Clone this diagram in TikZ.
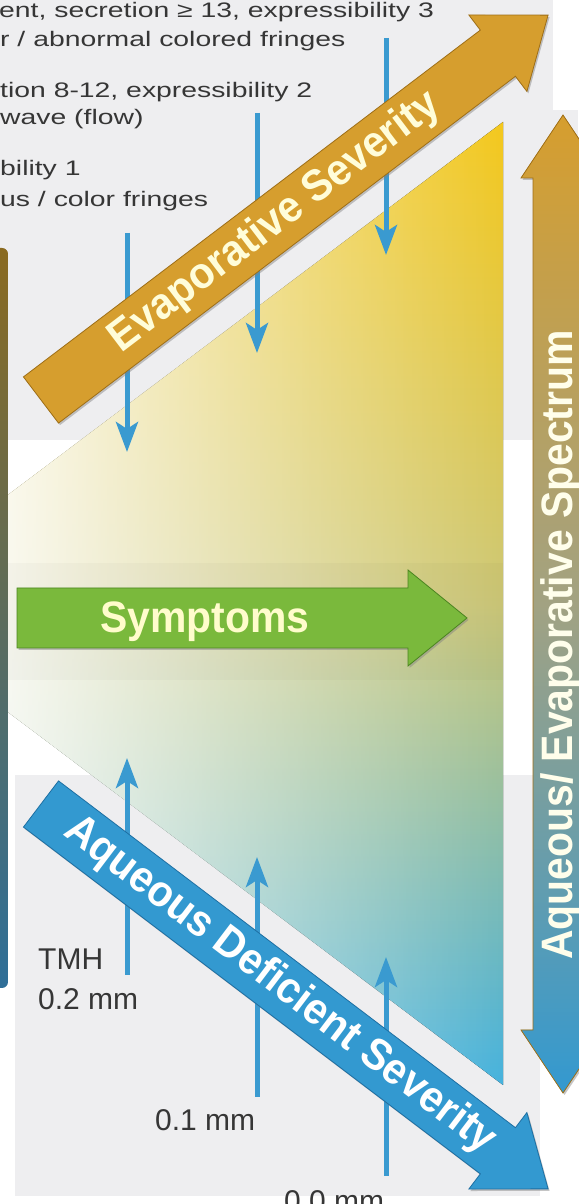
\documentclass[tikz,border=0pt]{standalone}
\usepackage{fontspec}
\setmainfont{Liberation Sans}
\newfontfamily\notefont[FakeStretch=1.35]{Liberation Sans}
\newfontfamily\barfont[FakeStretch=0.93]{Liberation Sans}
\usetikzlibrary{arrows.meta,shadows,fadings}

\definecolor{evap}{HTML}{D69E2E}
\definecolor{evapdark}{HTML}{9E6E16}
\definecolor{aqua}{HTML}{3399D0}
\definecolor{aquadark}{HTML}{1D6FA3}
\definecolor{symp}{HTML}{7AB93C}
\definecolor{sympdark}{HTML}{4B8420}
\definecolor{specmid}{HTML}{A2A282}
\definecolor{tickblue}{HTML}{3A9AD0}
\definecolor{panel}{HTML}{EEEEF0}
\definecolor{ink}{HTML}{363636}
\definecolor{fieldtop}{HTML}{F4C81C}
\definecolor{fieldmid}{HTML}{CDC877}
\definecolor{fieldbot}{HTML}{45B2DE}
\definecolor{edgetop}{HTML}{8A6A20}
\definecolor{edgebot}{HTML}{2E6E98}

\tikzset{
	bigarrow/.style={draw=#1dark, line width=0.8pt, fill=#1,
		drop shadow={shadow xshift=1.5pt, shadow yshift=-2pt, opacity=0.45}},
	bartext/.style={font=\barfont\bfseries\fontsize{44}{44}\selectfont, inner sep=0pt},
	notetext/.style={font=\notefont\fontsize{21}{25}\selectfont, text=ink, inner sep=0pt, anchor=base west},
	mmtext/.style={font=\fontsize{30}{34}\selectfont, text=ink, inner sep=0pt, anchor=base west},
	tickarrow/.style={draw=tickblue, line width=5pt, -{Stealth[length=30pt,width=22pt,inset=7pt]}}
}

\begin{document}
\begin{tikzpicture}[x=1pt,y=1pt]
	%%%%% START %%%%%
	\useasboundingbox (0,0) rectangle (578,1204);
	\fill[white] (0,0) rectangle (578,1204);
	
	\fill[panel] (0,764) rectangle (553,1204);
	\fill[panel] (513,764) rectangle (578,1094);
	\fill[panel] (15,8) rectangle (540,429);
	
	% spectrum field
	\fill[top color=fieldtop, bottom color=fieldbot, middle color=fieldmid] (0,703) -- (503,1082) -- (503,119) -- (0,498) -- cycle;
	\fill[white, path fading=east, fill opacity=0.9] (0,703) -- (503,1082) -- (503,119) -- (0,498) -- cycle;
	\fill[black, opacity=0.022] (0,524) rectangle (503,641);
	
	% meibomian grades
	\coordinate (d1a) at (127,971);  \coordinate (d1b) at (127,752);
	\coordinate (d2a) at (257,1091); \coordinate (d2b) at (257,851);
	\coordinate (d3a) at (386,1166); \coordinate (d3b) at (386,949);
	\draw[tickarrow] (d1a) -- (d1b);
	\draw[tickarrow] (d2a) -- (d2b);
	\draw[tickarrow] (d3a) -- (d3b);
	
	% tear meniscus heights
	\coordinate (u1a) at (127,229); \coordinate (u1b) at (127,446);
	\coordinate (u2a) at (257,107); \coordinate (u2b) at (257,347);
	\coordinate (u3a) at (386,28);  \coordinate (u3b) at (386,247);
	\draw[tickarrow] (u1a) -- (u1b);
	\draw[tickarrow] (u2a) -- (u2b);
	\draw[tickarrow] (u3a) -- (u3b);
	
	\begin{scope}[shift={(41,804)}, rotate=37.2]
		\draw[bigarrow=evap] (0,-29) -- (573.6,-29) -- (573.6,-48) -- (636.6,0) -- (573.6,48) -- (573.6,29) -- (0,29) -- cycle;
		\node[bartext, text=white!85!yellow, rotate=37.2] (evapname) at (294,0) {Evaporative Severity};
	\end{scope}
	
	\begin{scope}[shift={(41,400)}, rotate=-37.2]
		\draw[bigarrow=aqua] (0,-29) -- (573.6,-29) -- (573.6,-48) -- (636.6,0) -- (573.6,48) -- (573.6,29) -- (0,29) -- cycle;
		\node[bartext, text=white, rotate=-37.2] (aquaname) at (300,0) {Aqueous Deficient Severity};
	\end{scope}
	
	\draw[bigarrow=symp] (17,556) -- (408,556) -- (408,538) -- (467,586) -- (408,634) -- (408,616) -- (17,616) -- cycle;
	\node[bartext, text=white!80!yellow, anchor=base] (sympname) at (205,571) {Symptoms};
	
	\draw[bigarrow=evap, top color=evap, bottom color=aqua, middle color=specmid] (533,174) -- (521,174) -- (563,111) -- (605,174) -- (593,174) -- (593,1026) -- (605,1026) -- (563,1089) -- (521,1026) -- (533,1026) -- cycle;
	\node[bartext, text=white!92!yellow, rotate=90] (specname) at (561,559) {Aqueous/ Evaporative Spectrum};
	
	\shade[top color=edgetop, bottom color=edgebot, rounded corners=6pt] (-12,216) rectangle (8,956);
	
	\node[notetext] (note1) at (-1,1186) {ent, secretion ≥ 13, expressibility 3};
	\node[notetext] (note2) at (0,1157) {r / abnormal colored fringes};
	\node[notetext] (note3) at (0,1106) {tion 8-12, expressibility 2};
	\node[notetext] (note4) at (0,1079) {wave (flow)};
	\node[notetext] (note5) at (0,1028) {bility 1};
	\node[notetext] (note6) at (0,997) {us / color fringes};
	
	\node[mmtext] (tmh) at (38,234) {TMH};
	\node[mmtext] (mm2) at (38,194) {0.2 mm};
	\node[mmtext] (mm1) at (155,73) {0.1 mm};
	\node[mmtext] (mm0) at (284,-8) {0.0 mm};
	%%%%% END %%%%%
\end{tikzpicture}
\end{document}
